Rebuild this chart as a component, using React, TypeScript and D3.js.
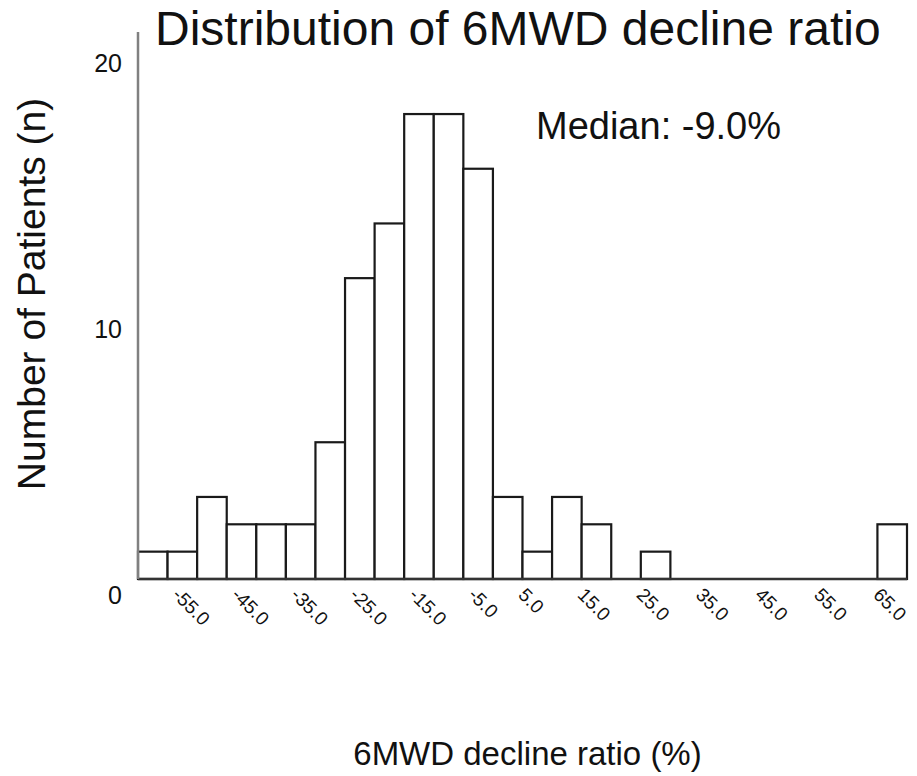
import React, { useEffect, useRef } from 'react';
import * as d3 from 'd3';

// Bin centers (%), one bar per bin
const binCenters = [
  -60, -55, -50, -45, -40, -35, -30, -25, -20, -15, -10, -5, 0,
  5, 10, 15, 20, 25, 30, 35, 40, 45, 50, 55, 60, 65,
];

// Number of patients in each bin
const counts = [1, 1, 3, 2, 2, 2, 5, 11, 13, 17, 17, 15, 3, 1, 3, 2, 0, 1, 0, 0, 0, 0, 0, 0, 0, 2];

// Labelled bins on the x axis
const tickBins = [-55, -45, -35, -25, -15, -5, 5, 15, 25, 35, 45, 55, 65];
const tickLabels = ['-55.0', '-45.0', '-35.0', '-25.0', '-15.0', '-5.0', '5.0', '15.0', '25.0', '35.0', '45.0', '55.0', '65.0'];

const yTicks = [0, 10, 20];

const title = 'Distribution of 6MWD decline ratio';
const medianLabel = 'Median: -9.0%';
const xTitle = '6MWD decline ratio (%)';
const yTitle = 'Number of Patients (n)';

const App = () => {
  const ref = useRef(null);

  useEffect(() => {
    const width = 917;
    const height = 776;
    const left = 138;
    const right = 907;
    const top = 32;
    const bottom = 579;
    const font = '"Liberation Sans", Arial, sans-serif';

    const x = d3.scaleBand<number>()
      .domain(binCenters)
      .range([left, right])
      .padding(0);

    const y = d3.scaleLinear().domain([0, 20]).range([bottom, top]);
    // tick labels in the original sit a bit low against the axis
    const yLabel = d3.scaleLinear().domain([0, 20]).range([595, 63]);

    const svg = d3.select(ref.current);
    svg.selectAll('*').remove();
    svg.attr('width', width).attr('height', height);

    svg.append('rect')
      .attr('width', width)
      .attr('height', height)
      .attr('fill', '#ffffff');

    // Title
    svg.append('text')
      .attr('x', 155)
      .attr('y', 45)
      .attr('font-family', font)
      .attr('font-size', 48)
      .attr('fill', '#111')
      .text(title);

    // Bars
    const data = binCenters.map((b, i) => ({ bin: b, n: counts[i] }));
    svg.append('g')
      .selectAll('rect')
      .data(data.filter(d => d.n > 0))
      .enter()
      .append('rect')
      .attr('x', d => x(d.bin))
      .attr('y', d => y(d.n))
      .attr('width', x.bandwidth())
      .attr('height', d => y(0) - y(d.n))
      .attr('fill', '#ffffff')
      .attr('stroke', '#1a1a1a')
      .attr('stroke-width', 2.2);

    // Baseline
    svg.append('line')
      .attr('x1', left)
      .attr('x2', right)
      .attr('y1', y(0))
      .attr('y2', y(0))
      .attr('stroke', '#333')
      .attr('stroke-width', 2.5);

    // Y axis line
    svg.append('line')
      .attr('x1', left)
      .attr('x2', left)
      .attr('y1', y(20))
      .attr('y2', y(0))
      .attr('stroke', '#808080')
      .attr('stroke-width', 2.5);

    // Y tick labels
    svg.append('g')
      .selectAll('text')
      .data(yTicks)
      .enter()
      .append('text')
      .attr('x', 122)
      .attr('y', d => yLabel(d))
      .attr('dy', '0.35em')
      .attr('text-anchor', 'end')
      .attr('font-family', font)
      .attr('font-size', 25)
      .attr('fill', '#111')
      .text(d => d);

    // X tick labels, rotated; negative labels start a little further right
    svg.append('g')
      .selectAll('text')
      .data(tickBins)
      .enter()
      .append('text')
      .attr('transform', d => {
        const cx = x(d) + x.bandwidth() / 2 + (d < 0 ? -11 : -20);
        return `translate(${cx},596) rotate(45)`;
      })
      .attr('font-family', font)
      .attr('font-size', 19)
      .attr('fill', '#111')
      .text((d, i) => tickLabels[i]);

    // Median annotation
    svg.append('text')
      .attr('x', 536)
      .attr('y', 139)
      .attr('font-family', font)
      .attr('font-size', 38)
      .attr('fill', '#111')
      .text(medianLabel);

    // Axis titles
    svg.append('text')
      .attr('x', (left + right) / 2 + 5)
      .attr('y', 765)
      .attr('text-anchor', 'middle')
      .attr('font-family', font)
      .attr('font-size', 33)
      .attr('fill', '#111')
      .text(xTitle);

    svg.append('text')
      .attr('transform', `translate(45,294) rotate(-90)`)
      .attr('text-anchor', 'middle')
      .attr('font-family', font)
      .attr('font-size', 39)
      .attr('fill', '#111')
      .text(yTitle);
  }, []);

  return (
    <svg ref={ref} style={{ position: 'absolute', left: 0, top: 0 }}></svg>
  );
};

export default App;
